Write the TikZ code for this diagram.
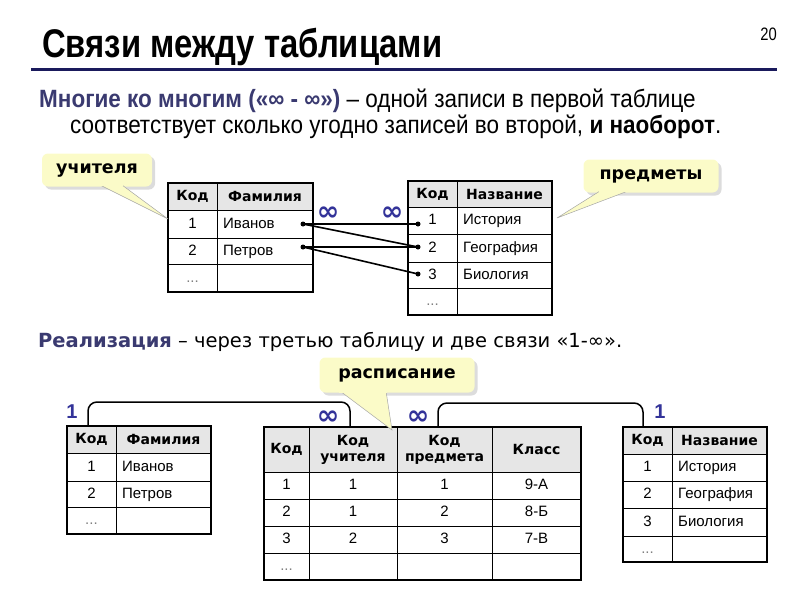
\documentclass[tikz,border=0pt]{standalone}
\usepackage{fontspec}
\setmainfont{Liberation Sans}
\newfontfamily\narrowfont[FakeStretch=0.82]{Liberation Sans}
\newfontfamily\leadfont[FakeStretch=0.9]{Liberation Sans}
\newfontfamily\symfont{DejaVu Sans}
\usetikzlibrary{positioning,calc,shadows}
\definecolor{navy}{HTML}{1A1A5C}
\definecolor{slate}{HTML}{3A3A70}
\definecolor{infblue}{HTML}{333399}
\definecolor{noteyellow}{HTML}{FBFBC8}
\definecolor{headgray}{HTML}{E6E6E6}

\tikzset{
  tabline/.style={line width=0.9pt},
  tabframe/.style={line width=1.2pt},
  cell/.style={font=\fontsize{15}{15}\selectfont, inner sep=0pt, text height=11pt, text depth=3pt},
  head/.style={font=\symfont\bfseries\fontsize{14}{16}\selectfont, inner sep=0pt, align=center},
  mult/.style={text=infblue, font=\fontsize{20}{20}\selectfont\bfseries, inner sep=0pt},
  bigmult/.style={text=infblue, font=\symfont\bfseries\fontsize{27}{27}\selectfont, inner sep=0pt},
  note/.style={font=\symfont\bfseries\fontsize{17.5}{18}\selectfont, fill=noteyellow, rounded corners=6pt,
    drop shadow={shadow xshift=3pt, shadow yshift=-3pt, fill=gray!55}},
  tail/.style={fill=noteyellow, draw=gray!70, line width=0.5pt},
  link/.style={line width=1.6pt},
  linkdot/.style={circle, fill, inner sep=0pt, minimum size=5pt},
  bridge/.style={line width=1.5pt, rounded corners=9pt},
}

\begin{document}
\begin{tikzpicture}[x=1pt,y=-1pt]
  \useasboundingbox (0,0) rectangle (800,600);
  % title
  \node[anchor=base west, inner sep=0pt, font=\narrowfont\bfseries\fontsize{40}{40}\selectfont] (title) at (42,57) {Связи между таблицами};
  \node[anchor=base east, inner sep=0pt, font=\narrowfont\fontsize{18}{18}\selectfont] (page) at (777,40) {20};
  \draw[navy, line width=3pt] (31,69) -- (777,69);
  \node[anchor=base west, inner sep=0pt, font=\leadfont\fontsize{25}{25}\selectfont] (intro1) at (39,107)
    {\textcolor{slate}{\bfseries Многие ко многим («∞ - ∞»)} – одной записи в первой таблице};
  \node[anchor=base west, inner sep=0pt, font=\leadfont\fontsize{25}{25}\selectfont] (intro2) at (70,133)
    {соответствует сколько угодно записей во второй, \textbf{и наоборот}.};

  % teachers, top
  \fill[headgray] (168,183) rectangle (313,210);
  \foreach \y in {210,238,264} \draw[tabline] (168,\y) -- (313,\y);
  \draw[tabline] (217,183) -- (217,292);
  \draw[tabframe] (168,183) rectangle (313,292);
  \node[head] (tTeachHk) at (192.5,196.5) {Код};
  \node[head] (tTeachHn) at (265,196.5) {Фамилия};
  \node[cell] (tTeach1) at (192.5,224) {1};
  \node[cell, anchor=west] (tTeachIv) at (223,224) {Иванов};
  \node[cell] (tTeach2) at (192.5,251) {2};
  \node[cell, anchor=west] (tTeachPe) at (223,251) {Петров};
  \node[cell, text=gray] (tTeach3) at (192.5,278) {...};

  % subjects, top
  \fill[headgray] (408,181) rectangle (552,207);
  \foreach \y in {207,234,262,288} \draw[tabline] (408,\y) -- (552,\y);
  \draw[tabline] (457,181) -- (457,315);
  \draw[tabframe] (408,181) rectangle (552,315);
  \node[head] (tSubjHk) at (432.5,194) {Код};
  \node[head] (tSubjHn) at (504.5,194) {Название};
  \node[cell] (tSubj1) at (432.5,220.5) {1};
  \node[cell, anchor=west] (tSubjHi) at (463,220.5) {История};
  \node[cell] (tSubj2) at (432.5,248) {2};
  \node[cell, anchor=west] (tSubjGe) at (463,248) {География};
  \node[cell] (tSubj3) at (432.5,275) {3};
  \node[cell, anchor=west] (tSubjBi) at (463,275) {Биология};
  \node[cell, text=gray] (tSubj4) at (432.5,301.5) {...};

  % many-to-many links
  \node[linkdot] (dIv) at (303,224) {};
  \node[linkdot] (dPe) at (303,247) {};
  \node[linkdot] (dHi) at (418,224) {};
  \node[linkdot] (dGe) at (418,247) {};
  \node[linkdot] (dBi) at (418,274) {};
  \draw[link] (dIv.center) -- (dHi.center);
  \draw[link] (dIv.center) -- (dGe.center);
  \draw[link] (dPe.center) -- (dGe.center);
  \draw[link] (dPe.center) -- (dBi.center);
  \node[bigmult] (mTeach) at (328,214) {∞};
  \node[bigmult] (mSubj) at (392,214) {∞};

  % callouts, top
  \node[note, minimum width=110pt, minimum height=33pt] (teachNote) at (97,170) {учителя};
  \coordinate (teachTip) at (168,219);
  \path[tail] (100,185) -- (teachTip) -- (122,185);
  \fill[noteyellow] (99,183) -- (123,183) -- (123,186) -- (99,186) -- cycle;
  \node[note, minimum width=135pt, minimum height=33pt] (subjNote) at (651,176) {предметы};
  \coordinate (subjTip) at (557,218);
  \path[tail] (600,191) -- (subjTip) -- (628,191);
  \fill[noteyellow] (599,188) -- (629,188) -- (629,192) -- (599,192) -- cycle;

  % implementation
  \node[anchor=base west, inner sep=0pt, font=\symfont\fontsize{19.5}{20}\selectfont] (impl) at (38,347)
    {\textcolor{slate}{\bfseries Реализация} – через третью таблицу и две связи «1-∞».};

  % teachers, bottom
  \fill[headgray] (67,426) rectangle (211,453);
  \foreach \y in {453,481,507} \draw[tabline] (67,\y) -- (211,\y);
  \draw[tabline] (116,426) -- (116,534);
  \draw[tabframe] (67,426) rectangle (211,534);
  \node[head] (bTeachHk) at (91.5,439.5) {Код};
  \node[head] (bTeachHn) at (163.5,439.5) {Фамилия};
  \node[cell] (bTeach1) at (91.5,467) {1};
  \node[cell, anchor=west] (bTeachIv) at (122,467) {Иванов};
  \node[cell] (bTeach2) at (91.5,494) {2};
  \node[cell, anchor=west] (bTeachPe) at (122,494) {Петров};
  \node[cell, text=gray] (bTeach3) at (91.5,520.5) {...};

  % schedule, bottom
  \fill[headgray] (264,427) rectangle (581,472);
  \foreach \y in {472,499,526,553} \draw[tabline] (264,\y) -- (581,\y);
  \foreach \x in {309,397,492} \draw[tabline] (\x,427) -- (\x,580);
  \draw[tabframe] (264,427) rectangle (581,580);
  \node[head] (bSchedHk) at (286.5,449.5) {Код};
  \node[head] (bSchedHt) at (353,449.5) {Код\\учителя};
  \node[head] (bSchedHs) at (444.5,449.5) {Код\\предмета};
  \node[head] (bSchedHc) at (536.5,449.5) {Класс};
  \foreach \k/\t/\s/\c [count=\i] in {1/1/1/9-А,2/1/2/8-Б,3/2/3/7-В} {
    \node[cell] (bSchedK\i) at (286.5,458.5+27*\i) {\k};
    \node[cell] (bSchedT\i) at (353,458.5+27*\i) {\t};
    \node[cell] (bSchedS\i) at (444.5,458.5+27*\i) {\s};
    \node[cell] (bSchedC\i) at (536.5,458.5+27*\i) {\c};
  }
  \node[cell, text=gray] (bSched4) at (286.5,566.5) {...};

  % subjects, bottom
  \fill[headgray] (623,427) rectangle (767,454);
  \foreach \y in {454,481,508,536} \draw[tabline] (623,\y) -- (767,\y);
  \draw[tabline] (672,427) -- (672,562);
  \draw[tabframe] (623,427) rectangle (767,562);
  \node[head] (bSubjHk) at (647.5,440.5) {Код};
  \node[head] (bSubjHn) at (719.5,440.5) {Название};
  \node[cell] (bSubj1) at (647.5,467.5) {1};
  \node[cell, anchor=west] (bSubjHi) at (678,467.5) {История};
  \node[cell] (bSubj2) at (647.5,494.5) {2};
  \node[cell, anchor=west] (bSubjGe) at (678,494.5) {География};
  \node[cell] (bSubj3) at (647.5,522) {3};
  \node[cell, anchor=west] (bSubjBi) at (678,522) {Биология};
  \node[cell, text=gray] (bSubj4) at (647.5,549) {...};

  % one-to-many links
  \coordinate (bTeachTop) at (88,426);
  \coordinate (bSchedTopT) at (350,427);
  \coordinate (bSchedTopS) at (438,427);
  \coordinate (bSubjTop) at (643,427);
  \draw[bridge] (bTeachTop) -- ++(0,-24) -| (bSchedTopT);
  \draw[bridge] (bSchedTopS) -- ++(0,-24) -| (bSubjTop);
  \node[mult] (mOneL) at (72,412) {1};
  \node[bigmult] (mManyT) at (328,418) {∞};
  \node[bigmult] (mManyS) at (418,418) {∞};
  \node[mult] (mOneR) at (660,412) {1};

  % callout, bottom
  \node[note, minimum width=155pt, minimum height=35pt] (schedNote) at (397,375) {расписание};
  \coordinate (schedTip) at (392,430);
  \path[tail] (340,391) -- (schedTip) -- (386,391);
  \fill[noteyellow] (339,389) -- (387,389) -- (387,393) -- (339,393) -- cycle;
\end{tikzpicture}
\end{document}
